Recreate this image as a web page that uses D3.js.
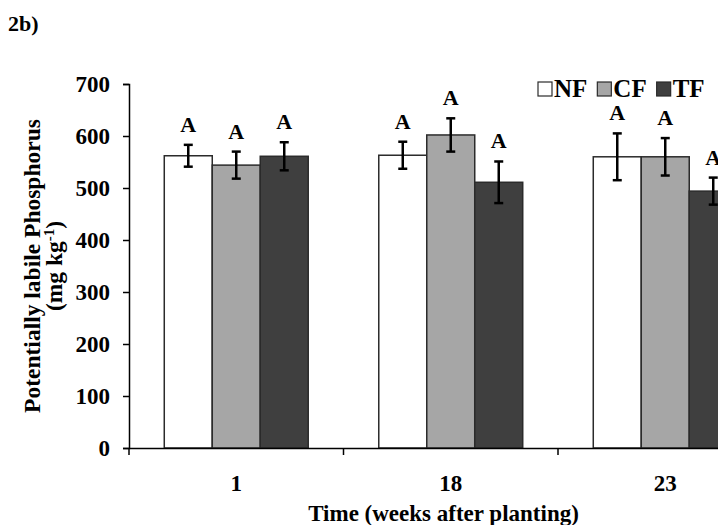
<!DOCTYPE html>
<html>
<head>
<meta charset="utf-8">
<script src="https://cdn.jsdelivr.net/npm/d3@7"></script>
<style>
  body { margin: 0; background: white; }
  text { font-family: "Liberation Serif", "Times New Roman", serif; font-weight: bold; fill: #000; }
</style>
</head>
<body>
<div id="plot"></div>
<script>
// Data
const weeks = ["1", "18", "23"];
const series = ["NF", "CF", "TF"];
const NF = [562, 563, 560];
const CF = [544, 602, 560];
const TF = [561, 511, 494];
const NFerr = [21, 26, 45];
const CFerr = [26, 32, 36];
const TFerr = [27, 40, 26];
const letters = ["A", "A", "A"];
const yTicks = [0, 100, 200, 300, 400, 500, 600, 700];
const colors = { NF: "#ffffff", CF: "#a6a6a6", TF: "#3f3f3f" };

const values = { NF: NF, CF: CF, TF: TF };
const errors = { NF: NFerr, CF: CFerr, TF: TFerr };

// flatten into one row per bar
const rows = [];
weeks.forEach((w, i) => {
  series.forEach(s => {
    rows.push({ week: w, series: s, value: values[s][i], err: errors[s][i], letter: letters[i] });
  });
});

const width = 718;
const height = 525;
const plotLeft = 129, plotBottom = 448, plotTop = 84;
const bandW = 214.5;

const svg = d3.select("#plot").append("svg")
  .attr("width", width)
  .attr("height", height)
  .style("background-color", "white");

// x scales (the third group runs off the right edge, like the original)
const x = d3.scaleBand()
  .domain(weeks)
  .range([plotLeft, plotLeft + bandW * weeks.length])
  .paddingInner(0).paddingOuter(0);

const xSub = d3.scaleBand()
  .domain(series)
  .range([0, x.bandwidth()])
  .paddingInner(0)
  .paddingOuter(0.735);

const y = d3.scaleLinear()
  .domain([0, 700])
  .range([plotBottom, plotTop]);

// bars
svg.selectAll("rect.bar")
  .data(rows)
  .enter()
  .append("rect")
  .attr("class", "bar")
  .attr("x", d => x(d.week) + xSub(d.series))
  .attr("y", d => y(d.value))
  .attr("width", xSub.bandwidth())
  .attr("height", d => y(0) - y(d.value))
  .attr("fill", d => colors[d.series])
  .attr("stroke", "#2b2b2b")
  .attr("stroke-width", 1.5);

// error bars
const cx = d => x(d.week) + xSub(d.series) + xSub.bandwidth() / 2;
const err = svg.append("g").attr("stroke", "#000").attr("stroke-width", 2.5);
rows.forEach(d => {
  const g = err.append("g");
  g.append("line").attr("x1", cx(d)).attr("x2", cx(d))
    .attr("y1", y(d.value + d.err)).attr("y2", y(d.value - d.err));
  [d.value + d.err, d.value - d.err].forEach(v => {
    g.append("line").attr("x1", cx(d) - 4.5).attr("x2", cx(d) + 4.5)
      .attr("y1", y(v)).attr("y2", y(v));
  });
});

// significance letters
svg.selectAll("text.sig")
  .data(rows)
  .enter()
  .append("text")
  .attr("class", "sig")
  .attr("x", cx)
  .attr("y", d => y(d.value + d.err) - 13)
  .attr("text-anchor", "middle")
  .style("font-size", "22px")
  .text(d => d.letter);

// y axis
const yAxis = d3.axisLeft(y).tickValues(yTicks).tickSize(6).tickPadding(13);
const yG = svg.append("g")
  .attr("transform", `translate(${plotLeft},0)`)
  .call(yAxis);
yG.selectAll("text").style("font-size", "23px").attr("dy", "0.34em")
  .style("font-family", "'Liberation Serif', serif").style("font-weight", "bold");
yG.selectAll("path, line").attr("stroke", "#000").attr("stroke-width", 1.5);

// x axis: labels centred, tick marks on the band edges
const xAxis = d3.axisBottom(x).tickSize(0).tickPadding(27);
const xG = svg.append("g")
  .attr("transform", `translate(0,${plotBottom})`)
  .call(xAxis);
xG.selectAll("text").style("font-size", "23px")
  .style("font-family", "'Liberation Serif', serif").style("font-weight", "bold");
xG.select("path").attr("stroke", "#000").attr("stroke-width", 1.5);
xG.selectAll("line.edge")
  .data(weeks)
  .enter()
  .append("line")
  .attr("class", "edge")
  .attr("x1", d => x(d)).attr("x2", d => x(d))
  .attr("y1", 0).attr("y2", 7)
  .attr("stroke", "#000").attr("stroke-width", 1.5);

// axis titles
svg.append("text")
  .attr("x", (plotLeft + width) / 2 + 20)
  .attr("y", 521)
  .attr("text-anchor", "middle")
  .style("font-size", "23px")
  .text("Time (weeks after planting)");

const yTitle = svg.append("text")
  .attr("transform", `translate(40,${(plotTop + plotBottom) / 2}) rotate(-90)`)
  .attr("text-anchor", "middle")
  .style("font-size", "23.5px");
yTitle.append("tspan").attr("x", 0).attr("y", 0).text("Potentially labile Phosphorus");
const unit = yTitle.append("tspan").attr("x", 0).attr("y", 22);
unit.append("tspan").text("(mg kg");
unit.append("tspan").attr("dy", -8).style("font-size", "15px").text("-1");
unit.append("tspan").attr("dy", 8).text(")");

// panel label
svg.append("text")
  .attr("x", 8).attr("y", 31)
  .style("font-size", "22px")
  .text("2b)");

// legend
let lx = 538;
series.forEach(s => {
  svg.append("rect")
    .attr("x", lx).attr("y", 82)
    .attr("width", 14).attr("height", 14)
    .attr("fill", colors[s])
    .attr("stroke", "#2b2b2b").attr("stroke-width", 1.2);
  const t = svg.append("text")
    .attr("x", lx + 16).attr("y", 97)
    .style("font-size", "25px")
    .text(s);
  lx += 16 + t.node().getComputedTextLength() + 10;
});
</script>
</body>
</html>
